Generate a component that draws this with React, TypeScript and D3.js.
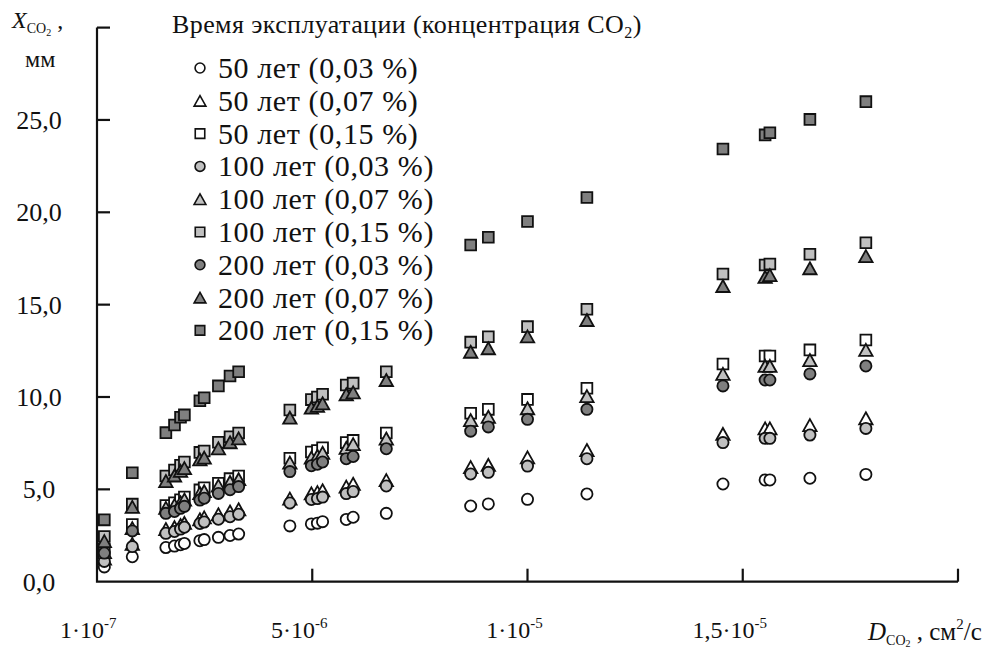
import * as d3 from 'd3'

// коэффициент диффузии, ×1e-6 см²/с
const dValues = [
  0.17, 0.82, 1.6, 1.8, 1.94, 2.03, 2.39, 2.49, 2.82, 3.09, 3.29, 4.48, 4.98, 5.12, 5.24,
  5.79, 5.95, 6.72, 8.68, 9.09, 10.0, 11.38, 14.54, 15.52, 15.63, 16.56, 17.86,
]

// глубина карбонизации, мм
const y50_003 = [
  0.8, 1.35, 1.85, 1.93, 2.0, 2.07, 2.22, 2.28, 2.4, 2.5, 2.58, 3.02, 3.13, 3.17, 3.25, 3.37,
  3.49, 3.7, 4.1, 4.21, 4.46, 4.75, 5.29, 5.51, 5.51, 5.6, 5.81,
]
const y50_007 = [
  1.25, 2.05, 2.85, 2.95, 3.07, 3.18, 3.38, 3.48, 3.65, 3.8, 3.92, 4.5, 4.78, 4.85, 4.95, 5.15,
  5.3, 5.5, 6.2, 6.32, 6.73, 7.13, 8.0, 8.3, 8.3, 8.48, 8.85,
]
const y50_015 = [
  1.75, 3.1, 4.12, 4.27, 4.44, 4.58, 4.97, 5.08, 5.33, 5.58, 5.72, 6.68, 7.02, 7.1, 7.25, 7.53,
  7.65, 8.05, 9.12, 9.33, 9.87, 10.47, 11.79, 12.22, 12.22, 12.55, 13.09,
]
const y100_003 = [
  1.1, 1.9, 2.62, 2.72, 2.85, 2.95, 3.15, 3.23, 3.38, 3.52, 3.65, 4.26, 4.45, 4.5, 4.58, 4.77,
  4.88, 5.18, 5.83, 5.92, 6.26, 6.66, 7.53, 7.76, 7.76, 7.94, 8.3,
]
const y100_007 = [
  1.6, 2.9, 4.0, 4.15, 4.3, 4.45, 4.8, 4.9, 5.2, 5.4, 5.55, 6.45, 6.72, 6.82, 6.98, 7.25, 7.45,
  7.75, 8.75, 8.93, 9.39, 10.05, 11.25, 11.68, 11.68, 12.0, 12.55,
]
const y100_015 = [
  2.45, 4.2, 5.72, 6.05, 6.3, 6.48, 7.0, 7.08, 7.55, 7.85, 8.05, 9.3, 9.86, 10.0, 10.15, 10.65,
  10.75, 11.37, 12.97, 13.26, 13.81, 14.75, 16.66, 17.15, 17.2, 17.73, 18.35,
]
const y200_003 = [
  1.55, 2.75, 3.7, 3.8, 3.97, 4.08, 4.42, 4.52, 4.78, 4.98, 5.15, 5.96, 6.28, 6.36, 6.48, 6.66,
  6.78, 7.2, 8.15, 8.38, 8.79, 9.33, 10.6, 10.92, 10.92, 11.25, 11.68,
]
const y200_007 = [
  2.2, 4.05, 5.45, 5.75, 6.0, 6.15, 6.62, 6.72, 7.22, 7.55, 7.76, 8.88, 9.42, 9.52, 9.66, 10.15,
  10.25, 10.92, 12.45, 12.64, 13.28, 14.17, 16.01, 16.5, 16.6, 16.97, 17.63,
]
// средние точки закрыты легендой
const y200_015 = [
  3.35, 5.9, 8.07, 8.48, 8.9, 9.03, 9.8, 9.96, 10.6, 11.14, 11.37, null, null, null, null, null,
  null, null, 18.23, 18.65, 19.5, 20.8, 23.43, 24.19, 24.31, 25.03, 25.99,
]

const seriesLabels = [
  '50 лет (0,03 %)',
  '50 лет (0,07 %)',
  '50 лет (0,15 %)',
  '100 лет (0,03 %)',
  '100 лет (0,07 %)',
  '100 лет (0,15 %)',
  '200 лет (0,03 %)',
  '200 лет (0,07 %)',
  '200 лет (0,15 %)',
]
const seriesValues = [y50_003, y50_007, y50_015, y100_003, y100_007, y100_015, y200_003, y200_007, y200_015]
const shapes = ['circle', 'triangle', 'square']
const fills = ['#ffffff', '#c0c0c0', '#7f7f7f']

const yTicks = [0, 5, 10, 15, 20, 25, 30]
const yTickLabels = ['0,0', '5,0', '10,0', '15,0', '20,0', '25,0', '']
const xTickMarks = [5, 10, 15, 20]
const xLabelValues = [0.1, 5, 10, 15]
const xLabelBase = ['1·10', '5·10', '1·10', '1,5·10']
const xLabelExp = ['-7', '-6', '-5', '-5']

const font = "'Liberation Serif', 'Times New Roman', serif"

const markerPath = (shape, s = 1) => {
  if (shape === 'circle') {
    const r = 5.6 * s
    return `M${-r},0a${r},${r} 0 1,0 ${2 * r},0a${r},${r} 0 1,0 ${-2 * r},0Z`
  }
  if (shape === 'square') {
    const h = 5.4 * s
    return `M${-h},${-h}H${h}V${h}H${-h}Z`
  }
  const w = 6.7 * s
  const h = 6.0 * s
  return `M0,${-h}L${w},${h}H${-w}Z`
}

const App = () => {
  const x = d3.scaleLinear().domain([0, 20]).range([97, 958])
  const y = d3.scaleLinear().domain([0, 30]).range([581.7, 27.6])

  const legendTop = 68
  const legendStep = 32.8

  return (
    <div style={{ position: 'absolute', left: 0, top: 0 }}>
      <svg width={1000} height={650} style={{ display: 'block' }}>
        <rect width={1000} height={650} fill="white" />

        {/* точки */}
        {seriesValues.map((vals, si) => (
          <g key={si}>
            {vals.map((v, i) =>
              v == null ? null : (
                <path
                  key={i}
                  d={markerPath(shapes[si % 3])}
                  transform={`translate(${x(dValues[i])},${y(v)})`}
                  fill={fills[Math.floor(si / 3)]}
                  stroke="#111"
                  strokeWidth={1.8}
                />
              )
            )}
          </g>
        ))}

        {/* оси */}
        <g stroke="#111" strokeWidth={2.2} fill="none">
          <path d={`M${x(0)},${y(30)}V${y(0)}H${x(20)}`} />
          {yTicks.slice(1).map((t) => (
            <line key={t} x1={x(0)} x2={x(0) + 13} y1={y(t)} y2={y(t)} />
          ))}
          {xTickMarks.map((t) => (
            <line key={t} x1={x(t)} x2={x(t)} y1={y(0)} y2={y(0) - 13} />
          ))}
        </g>

        <g fontFamily={font} fill="#111">
          {yTicks.map((t, i) => (
            <text key={t} x={39} y={y(t)} dy="0.35em" textAnchor="middle" fontSize={26}>
              {yTickLabels[i]}
            </text>
          ))}

          {xLabelValues.map((t, i) => (
            <text key={t} x={x(t) - 13} y={638} textAnchor="middle" fontSize={24}>
              {xLabelBase[i]}
              <tspan fontSize={15} dy={-10}>
                {xLabelExp[i]}
              </tspan>
            </text>
          ))}

          {/* подписи осей */}
          <text x={12} y={28} fontSize={24}>
            <tspan fontStyle="italic">X</tspan>
            <tspan fontSize={14} dy={5}>CO</tspan>
            <tspan fontSize={10} dy={3}>2</tspan>
            <tspan dy={-8}> ,</tspan>
          </text>
          <text x={25} y={67} fontSize={24}>
            мм
          </text>

          <text x={868} y={640} fontSize={25}>
            <tspan fontStyle="italic">D</tspan>
            <tspan fontSize={14} dy={5}>CO</tspan>
            <tspan fontSize={10} dy={2}>2</tspan>
            <tspan dy={-7}> , см</tspan>
            <tspan fontSize={15} dy={-11}>2</tspan>
            <tspan dy={11}>/с</tspan>
          </text>

          {/* легенда */}
          <rect x={190} y={50} width={252} height={295} fill="white" />
          <text x={172} y={33} fontSize={26} letterSpacing={0.4}>
            Время эксплуатации (концентрация CO
            <tspan fontSize={16} dy={5}>2</tspan>
            <tspan dy={-5}>)</tspan>
          </text>
          {seriesLabels.map((label, si) => {
            const cy = legendTop + legendStep * si
            return (
              <g key={label}>
                <path
                  d={markerPath(shapes[si % 3], 0.88)}
                  transform={`translate(200,${cy})`}
                  fill={fills[Math.floor(si / 3)]}
                  stroke="#111"
                  strokeWidth={1.6}
                />
                <text x={218} y={cy + 10} fontSize={30} letterSpacing={0.6}>
                  {label}
                </text>
              </g>
            )
          })}
        </g>
      </svg>
    </div>
  )
}

export default App
